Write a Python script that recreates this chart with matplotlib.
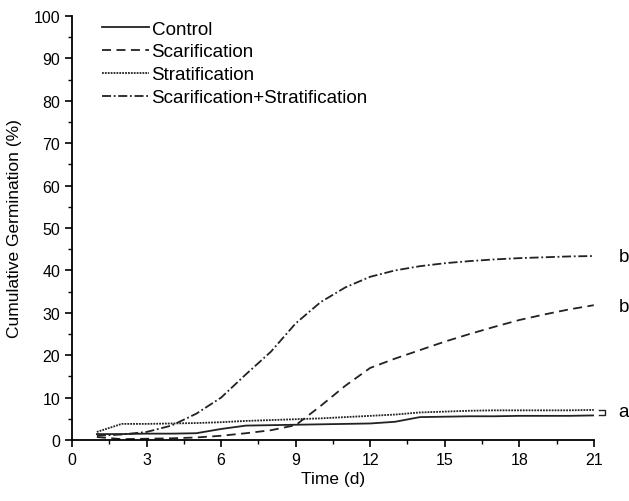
import matplotlib
matplotlib.use('Agg')
import matplotlib.pyplot as plt
from matplotlib.ticker import MultipleLocator

days = list(range(1, 22))
control = [1.4, 1.4, 1.5, 1.5, 1.6, 2.6, 3.4, 3.5, 3.6, 3.7, 3.8,
           3.9, 4.3, 5.4, 5.5, 5.6, 5.6, 5.7, 5.7, 5.7, 5.8]
scarif = [0.7, 0.2, 0.3, 0.4, 0.6, 1.0, 1.6, 2.3, 3.5, 8.0, 12.8,
          17.0, 19.2, 21.2, 23.2, 25.0, 26.7, 28.3, 29.6, 30.8, 31.8]
stratif = [1.9, 3.8, 3.8, 3.9, 4.0, 4.2, 4.5, 4.7, 4.9, 5.1, 5.4,
           5.7, 6.0, 6.5, 6.7, 6.9, 7.0, 7.0, 7.0, 7.0, 7.1]
both = [1.0, 1.3, 1.9, 3.4, 6.2, 10.0, 15.5, 20.8, 27.5, 32.5, 36.0,
        38.5, 40.0, 41.0, 41.7, 42.2, 42.6, 42.9, 43.1, 43.3, 43.4]
series_names = ['Control', 'Scarification', 'Stratification',
                'Scarification+Stratification']
group_labels = [('b', 43.4), ('b', 31.6), ('a', 6.8)]

plt.rcParams['font.family'] = ['Liberation Sans', 'DejaVu Sans']
col = '#222222'

fig = plt.figure(figsize=(6.29, 5.02), dpi=100)
ax = fig.add_axes([0.1145, 0.1215, 0.8295, 0.8445])

ax.plot(days, control, '-', color=col, lw=1.3, label=series_names[0])
ax.plot(days, scarif, color=col, lw=1.3, ls=(0, (5, 3)), label=series_names[1])
ax.plot(days, stratif, color=col, lw=1.3, ls=(0, (1, 0.6)), label=series_names[2])
ax.plot(days, both, color=col, lw=1.3, ls=(0, (5, 1.5, 1, 1.5)), label=series_names[3])

ax.set_xlim(0, 21)
ax.set_ylim(0, 100)
ax.xaxis.set_major_locator(MultipleLocator(3))
ax.xaxis.set_minor_locator(MultipleLocator(1.5))
ax.yaxis.set_major_locator(MultipleLocator(10))
ax.yaxis.set_minor_locator(MultipleLocator(5))
ax.spines['top'].set_visible(False)
ax.spines['right'].set_visible(False)
for s in ('left', 'bottom'):
    ax.spines[s].set_linewidth(1.3)
ax.tick_params(which='major', length=5, width=1.2, labelsize=11.5, direction='out')
ax.tick_params(which='minor', length=3, width=1.0, direction='out')

ax.set_xlabel('Time (d)', fontsize=12.5, labelpad=3)
ax.set_ylabel('Cumulative Germination (%)', fontsize=12.5, labelpad=8)

ax.legend(loc='upper left', frameon=False, fontsize=13.6, handlelength=2.5,
          handletextpad=0.15, labelspacing=0.3, bbox_to_anchor=(0.024, 1.03))

for txt, yv in group_labels:
    ax.text(22.2, yv, txt, fontsize=13.5, ha='center', va='center', clip_on=False)

# small bracket joining the two low curves
ax.plot([21.2, 21.45, 21.45, 21.2], [7.1, 7.1, 5.8, 5.8], color=col, lw=1.0,
        clip_on=False)

fig.savefig('out.png', dpi=100)
